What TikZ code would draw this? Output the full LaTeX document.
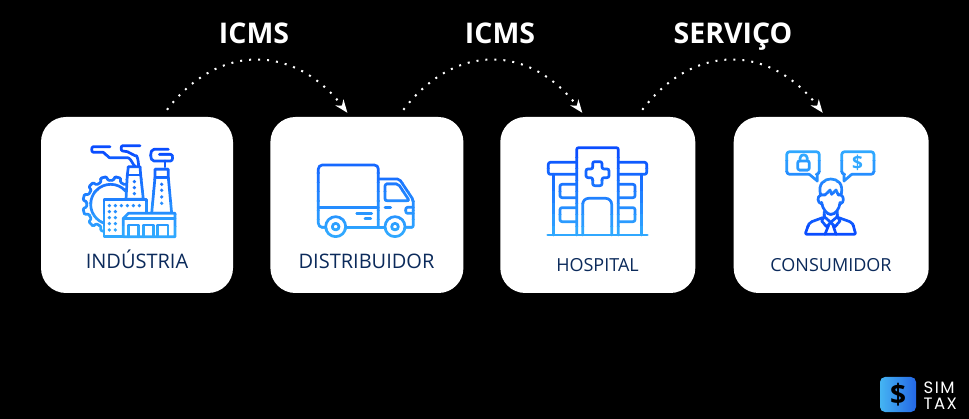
\documentclass[tikz,border=0pt]{standalone}
\usepackage{fontspec}
\setmainfont{Open Sans}
\newfontfamily\logofont[LetterSpace=9]{Poppins}
\usepackage{xcolor}
\usetikzlibrary{arrows.meta, positioning}
\definecolor{navy}{HTML}{0B2A5B}
\definecolor{azulforte}{HTML}{0A4DFF}
\definecolor{azulclaro}{HTML}{30A8FF}
\definecolor{logoclaro}{HTML}{45B4F2}
\definecolor{logoforte}{HTML}{2468E6}
\tikzset{
    cartao/.style={fill=white, rounded corners=25pt, minimum height=176pt, inner sep=0pt},
    rotulo/.style={text=navy, inner sep=0pt, anchor=base},
    titulo/.style={text=white, font=\fontsize{28.5}{30}\selectfont\bfseries, inner sep=0pt, anchor=base},
    fluxo/.style={draw=white, line width=2pt, dash pattern=on 2pt off 7pt, -{Stealth[length=13pt, width=10pt, inset=4pt]}},
    traco/.style={draw=corfaixa, line width=2.7pt, line join=round, line cap=round},
    ponto/.style={fill=corfaixa},
    marca/.style={text=white, inner sep=0pt, anchor=base west, font=\logofont\fontsize{16.5}{17}\selectfont}
}
% icon art is repainted in horizontal bands to get the colour ramp of the strokes
\newcommand{\gradiente}[5]{%
    \foreach \k in {0,...,7}{
        \begin{scope}
            \pgfmathsetmacro{\ya}{#3+\k*(#4-#3)/8}
            \pgfmathsetmacro{\yb}{\ya+(#4-#3)/8+1}
            \pgfmathsetmacro{\pct}{100*\k/7}
            \colorlet{corfaixa}{#2!\pct!#1}
            \clip (0,\ya) rectangle (600,\yb);
            #5
        \end{scope}
    }%
}
\begin{document}
\begin{tikzpicture}[x=1pt, y=-1pt]
    \useasboundingbox (0,0) rectangle (969,419);
    \fill[black] (0,0) rectangle (969,419);

    % cards
    \node[cartao, minimum width=192pt] (industria) at (137,205) {};
    \node[cartao, minimum width=193pt, right=37pt of industria] (distribuidor) {};
    \node[cartao, minimum width=195pt, right=36.5pt of distribuidor] (hospital) {};
    \node[cartao, minimum width=195pt, right=38pt of hospital] (consumidor) {};

    % labels
    \node[rotulo, font=\fontsize{20}{22}\selectfont] (txtindustria) at (137,269) {INDÚSTRIA};
    \node[rotulo, font=\fontsize{20}{22}\selectfont] (txtdistribuidor) at (366.5,269) {DISTRIBUIDOR};
    \node[rotulo, font=\fontsize{18}{20}\selectfont] (txthospital) at (597.5,271.5) {HOSPITAL};
    \node[rotulo, font=\fontsize{18}{20}\selectfont] (txtconsumidor) at (831,271.5) {CONSUMIDOR};

    \node[titulo] (icms1) at (254,44) {ICMS};
    \node[titulo] (icms2) at (500,44) {ICMS};
    \node[titulo] (servico) at (733,44) {SERVIÇO};

    % flows
    \draw[fluxo] ([xshift=30pt, yshift=7pt]industria.north) .. controls +(52,-68) and +(-52,-68) .. ([xshift=-19.5pt, yshift=4pt]distribuidor.north);
    \draw[fluxo] ([xshift=36.5pt, yshift=7pt]distribuidor.north) .. controls +(52,-68) and +(-52,-68) .. ([xshift=-15.5pt, yshift=4pt]hospital.north);
    \draw[fluxo] ([xshift=44.5pt, yshift=7pt]hospital.north) .. controls +(52,-68) and +(-52,-68) .. ([xshift=-8.5pt, yshift=4pt]consumidor.north);

    % factory
    \begin{scope}[shift={(40,115)}, scale=1/3]
        \gradiente{azulforte}{azulclaro}{85}{370}{
            \draw[traco] (210,95) -- (160,95) to[out=180,in=180] (160,112) -- (190,112) -- (208,128) -- (262,128) to[out=0,in=-90] (285,152);
            \draw[traco] (300,92) -- (248,92) to[out=180,in=180] (248,108) -- (262,110) -- (285,122) to[out=30,in=-90] (296,152);
            \draw[traco] (385,103) -- (342,103) to[out=180,in=180] (342,138) -- (392,138) to[out=0,in=0] (392,118) -- (358,118);
            \draw[traco] (375,138) -- (375,155);
            \draw[traco, rounded corners=1pt, shift={(212,268)}] (0:72) \foreach \a in {0,30,...,330}{ -- (\a+6:72) -- (\a+9:84) -- (\a+21:84) -- (\a+24:72) -- (\a+30:72)} -- cycle;
            \draw[traco] (212,268) circle[radius=60];
            \draw[traco, fill=white] (258,253) -- (262,180) -- (265,155) -- (300,155) -- (302,180) -- (310,253) -- cycle;
            \draw[traco] (262,180) -- (302,180);
            \draw[traco, fill=white] (335,295) -- (345,188) -- (345,163) -- (385,163) -- (385,188) -- (395,295) -- cycle;
            \draw[traco] (345,188) -- (385,188);
            \foreach \yy in {200,218,236} \fill[ponto] (283,\yy) circle[radius=5.5];
            \foreach \yy in {208,226,246,265} \fill[ponto] (365,\yy) circle[radius=5.5];
            \draw[traco, fill=white] (192,253) -- (320,253) -- (320,295) -- (405,295) -- (405,365) -- (192,365) -- cycle;
            \foreach \xx in {208,226,244,262,280,298} \fill[ponto] (\xx,272) circle[radius=5.5];
            \foreach \xx in {208,226}
                \foreach \yy in {290,308,326,345} \fill[ponto] (\xx,\yy) circle[radius=5.5];
            \draw[traco, fill=white] (250,365) -- (250,310) -- (265,295) -- (405,295) -- (405,365) -- cycle;
            \draw[traco] (250,310) -- (405,310);
            \foreach \xx in {265,310,353}
                \draw[traco] (\xx,365) -- (\xx,330) -- ++(31,0) -- ++(0,35);
        }
    \end{scope}

    % truck
    \begin{scope}[shift={(270,115)}, scale=1/3]
        \gradiente{azulforte!70!azulclaro}{azulclaro}{145}{370}{
            \draw[traco, rounded corners=4pt] (165,337) -- (145,337) -- (145,150) -- (325,150) -- (325,337);
            \draw[traco] (228,337) -- (345,337);
            \draw[traco] (145,277) -- (325,277);
            \draw[traco, rounded corners=2pt] (325,192) -- (388,192) -- (430,255) -- (430,337) -- (405,337);
            \draw[traco, rounded corners=2pt] (345,207) -- (385,207) -- (418,257) -- (345,257) -- cycle;
            \draw[traco] (345,277) -- (362,277);
            \draw[traco] (430,277) -- (412,277) to[out=180,in=180] (412,295) -- (430,295);
            \draw[traco] (260,296) -- (305,296);
            \draw[traco] (285,311) -- (302,311);
            \foreach \xx in {197,375}{
                \draw[traco] (\xx,335) circle[radius=30];
                \draw[traco] (\xx,335) circle[radius=10];
            }
        }
    \end{scope}

    % hospital
    \begin{scope}[shift={(500,115)}, scale=1/3]
        \gradiente{azulforte}{azulclaro}{92}{368}{
            \draw[traco, rounded corners=2pt] (230,360) -- (230,98) -- (355,98) -- (355,360);
            \draw[traco, rounded corners=2pt] (278,140) -- (306,140) -- (306,162) -- (327,162) -- (327,188) -- (306,188) -- (306,212) -- (278,212) -- (278,188) -- (258,188) -- (258,162) -- (278,162) -- cycle;
            \draw[traco, rounded corners=2pt] (230,142) -- (145,142) -- (145,178) -- (230,178);
            \draw[traco, rounded corners=2pt] (355,142) -- (440,142) -- (440,178) -- (355,178);
            \draw[traco] (160,178) -- (160,360);
            \draw[traco] (425,178) -- (425,360);
            \draw[traco, rounded corners=2pt] (230,208) -- (180,208) -- (180,248) -- (230,248);
            \draw[traco, rounded corners=2pt] (230,278) -- (180,278) -- (180,320) -- (230,320);
            \draw[traco, rounded corners=2pt] (355,208) -- (405,208) -- (405,248) -- (355,248);
            \draw[traco, rounded corners=2pt] (355,278) -- (405,278) -- (405,320) -- (355,320);
            \draw[traco, rounded corners=6pt] (248,360) -- (248,250) -- (335,250) -- (335,360);
            \draw[traco] (143,360) -- (442,360);
        }
    \end{scope}

    % consumer
    \begin{scope}[shift={(730,115)}, scale=1/3]
        \gradiente{azulclaro}{azulforte}{104}{365}{
            \draw[traco, rounded corners=3pt] (238,178) -- (170,178) -- (170,110) -- (268,110) -- (268,178) -- (262,178);
            \draw[traco] (238,178) -- (262,198) -- (262,178);
            \draw[traco, rounded corners=2pt] (203,138) rectangle (238,165);
            \draw[traco] (210,138) -- (210,130) .. controls (210,116) and (232,116) .. (232,130) -- (232,138);
            \draw[traco, rounded corners=3pt] (365,178) -- (432,178) -- (432,110) -- (335,110) -- (335,178) -- (342,178);
            \draw[traco] (365,178) -- (342,198) -- (342,178);
            \draw[traco] (272,240) .. controls (262,205) and (285,192) .. (302,192) .. controls (322,192) and (342,205) .. (333,240) -- (325,240) -- (318,225) -- (305,238) -- (300,225) -- (285,240) -- cycle;
            \draw[traco] (272,240) .. controls (260,245) and (262,265) .. (275,266);
            \draw[traco] (333,240) .. controls (343,245) and (343,265) .. (330,266);
            \draw[traco] (275,262) .. controls (278,285) and (292,298) .. (302,298) .. controls (315,298) and (328,285) .. (330,262);
            \draw[traco] (283,290) -- (283,305) -- (302,322) -- (322,305) -- (322,290);
            \draw[traco] (283,305) -- (275,318) -- (290,335) -- (302,322) -- (315,335) -- (330,318) -- (322,305);
            \draw[traco] (295,333) -- (285,358);
            \draw[traco] (310,333) -- (318,358);
            \draw[traco, rounded corners=2pt] (278,308) -- (240,322) .. controls (235,330) and (230,345) .. (225,358) -- (378,358) .. controls (373,345) and (370,330) .. (365,322) -- (326,308);
        }
    \end{scope}
    \node[text=azulclaro, inner sep=0pt, font=\fontsize{19}{20}\selectfont\bfseries] (cifrao) at (857.5,162.5) {\$};

    % logo
    \node[left color=logoclaro, right color=logoforte, rounded corners=5pt, minimum width=36pt, minimum height=35pt, inner sep=0pt] (logobox) at (898,394.5) {};
    \node[text=black, inner sep=0pt, font=\fontsize{28}{30}\selectfont\bfseries] (logocifrao) at (logobox.center) {\$};
    \node[marca] (sim) at (923.5,393) {SIM};
    \node[marca] (tax) at (923.5,409.5) {TAX};
\end{tikzpicture}
\end{document}
